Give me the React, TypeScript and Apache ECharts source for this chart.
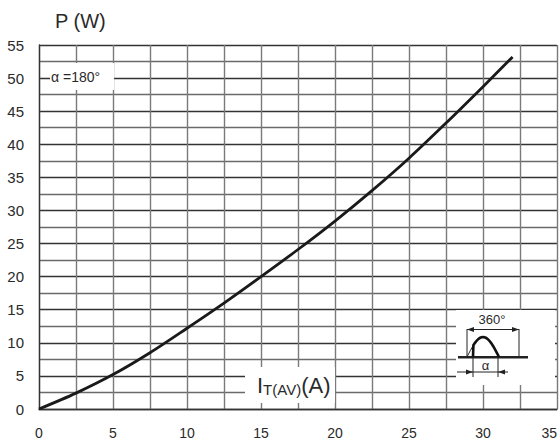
import React, { useEffect, useRef } from "react";
import * as echarts from "echarts";

const currentA = [0, 2.5, 5, 7.5, 10, 12.5, 15, 17.5, 20, 22.5, 25, 27.5, 30, 32];
const powerW = [0, 2.4, 5.2, 8.5, 12.2, 16.0, 20.0, 24.1, 28.4, 33.0, 37.9, 43.2, 48.7, 53.2];
const xTicks = [0, 5, 10, 15, 20, 25, 30, 35];
const yTicks = [0, 5, 10, 15, 20, 25, 30, 35, 40, 45, 50, 55];

const FONT = "'Liberation Sans', Arial, sans-serif";
const TXT = "#2a2a2a";

function sineIcon(): number[][] {
  // decorative waveform icon (half sine) for the inset
  const pts: number[][] = [];
  const x0 = 467, x1 = 499, base = 357, amp = 20;
  for (let i = 0; i <= 20; i++) {
    const t = i / 20;
    pts.push([x0 + (x1 - x0) * t, base - amp * Math.sin(Math.PI * t)]);
  }
  return pts;
}

export default function App() {
  const ref = useRef<HTMLDivElement>(null);
  useEffect(() => {
    if (!ref.current) return;
    const chart = echarts.init(ref.current, null, { renderer: "svg" });
    const sine = sineIcon();
    const thin = sine.filter((p) => p[0] <= 474);
    const thick = sine.filter((p) => p[0] >= 472);
    const Z = 100;
    const arrow = (x: number, y: number, dir: number) => ({
      type: "polygon",
      z: Z + 2,
      shape: { points: [[x, y], [x - dir * 7, y - 2.5], [x - dir * 7, y + 2.5]] },
      style: { fill: "#222" },
    });
    const ln = (x1: number, y1: number, x2: number, y2: number, w = 1) => ({
      type: "line",
      z: Z + 1,
      shape: { x1, y1, x2, y2 },
      style: { stroke: "#222", lineWidth: w },
    });
    chart.setOption({
      animation: false,
      grid: { left: 39, right: 3, top: 45, bottom: 38, containLabel: false },
      xAxis: {
        type: "value",
        min: 0,
        max: 35,
        interval: 2.5,
        axisLine: { show: true, lineStyle: { color: "#333", width: 1.3 } },
        axisTick: { show: false },
        axisLabel: {
          margin: 17,
          fontSize: 14,
          fontFamily: FONT,
          color: TXT,
          alignMaxLabel: "right",
          formatter: (v: number) => (xTicks.includes(v) ? String(v) : ""),
        },
        splitLine: { show: true, lineStyle: { color: "#7a7a7a", width: 1.4 } },
      },
      yAxis: {
        type: "value",
        min: 0,
        max: 55,
        interval: 2.5,
        axisLine: { show: true, lineStyle: { color: "#333", width: 1.3 } },
        axisTick: { show: false },
        axisLabel: {
          margin: 15,
          fontSize: 15,
          fontFamily: FONT,
          color: TXT,
          formatter: (v: number) => (yTicks.includes(v) ? String(v) : ""),
        },
        splitLine: { show: true, lineStyle: { color: ["#333", "#6a6a6a"], width: 1.3 } },
      },
      series: [
        {
          type: "line",
          data: currentA.map((x, i) => [x, powerW[i]]),
          smooth: 0.3,
          showSymbol: false,
          lineStyle: { color: "#1a1a1a", width: 2.8 },
          z: 10,
        },
      ],
      graphic: [
        {
          type: "text",
          left: 55,
          top: 11,
          style: { text: "P (W)", fontSize: 20, fontFamily: FONT, fill: TXT },
        },
        { type: "rect", z: Z, shape: { x: 50, y: 63, width: 64, height: 27 }, style: { fill: "#fff" } },
        {
          type: "text",
          z: Z + 1,
          x: 51,
          y: 77,
          style: { text: "α =180°", fontSize: 14, fontFamily: FONT, fill: TXT, verticalAlign: "middle" },
        },
        { type: "rect", z: Z, shape: { x: 245, y: 367, width: 90, height: 36 }, style: { fill: "#fff" } },
        {
          type: "text",
          z: Z + 1,
          x: 257,
          y: 384,
          style: {
            text: "{a|I}{b|T(AV)}{a|(A)}",
            fontFamily: FONT,
            fill: TXT,
            verticalAlign: "middle",
            rich: {
              a: { fontSize: 22, fontFamily: FONT, fill: TXT, verticalAlign: "bottom", lineHeight: 25 },
              b: { fontSize: 15, fontFamily: FONT, fill: TXT, verticalAlign: "bottom", lineHeight: 23 },
            },
          },
        },
        { type: "rect", z: Z, shape: { x: 456, y: 310, width: 99, height: 75 }, style: { fill: "#fff" } },
        {
          type: "text",
          z: Z + 1,
          x: 492,
          y: 319,
          style: { text: "360°", fontSize: 13, fontFamily: FONT, fill: TXT, align: "center", verticalAlign: "middle" },
        },
        ln(467, 329.5, 519, 329.5),
        arrow(467, 329.5, -1),
        arrow(519, 329.5, 1),
        ln(467, 329, 467, 357),
        ln(519, 329, 519, 357),
        ln(458, 357.3, 528, 357.3, 2.6),
        {
          type: "polyline",
          z: Z + 1,
          shape: { points: thin },
          style: { stroke: "#222", lineWidth: 1, fill: "none" },
        },
        {
          type: "polyline",
          z: Z + 1,
          shape: { points: [[473, 357], ...thick] },
          style: { stroke: "#111", lineWidth: 2.6, fill: "none" },
        },
        ln(473, 357, 473, 377),
        ln(498, 357, 498, 377),
        ln(457, 372, 508, 372),
        arrow(473, 372, 1),
        arrow(498, 372, -1),
        {
          type: "text",
          z: Z + 1,
          x: 485.5,
          y: 365,
          style: { text: "α", fontSize: 13, fontFamily: FONT, fill: TXT, align: "center", verticalAlign: "middle" },
        },
      ],
    });
    return () => chart.dispose();
  }, []);
  return <div ref={ref} style={{ position: "absolute", left: 0, top: 0, width: 560, height: 447 }} />;
}
